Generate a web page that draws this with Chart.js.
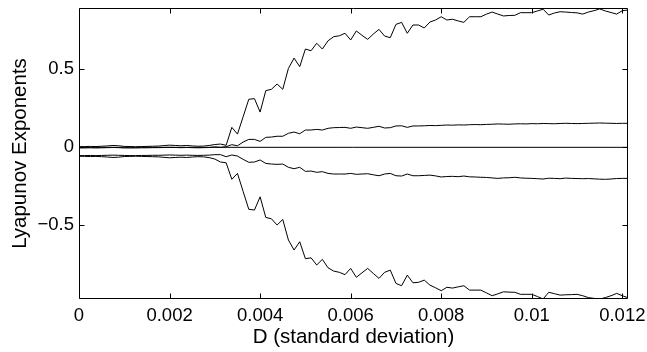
<!DOCTYPE html>
<html>
<head>
<meta charset="utf-8">
<script src="https://cdn.jsdelivr.net/npm/chart.js@4"></script>
<style>
    html, body { margin: 0; padding: 0; background: #fff; }
    canvas { display: block; }
</style>
</head>
<body>
<canvas id="chart" width="647" height="352"></canvas>
<script>
// sampling of D: one point every 0.000125, 98 points
const dStep = 0.000125;
const dMax = 0.012125;

// Lyapunov exponents (top to bottom)
const lambda1 = [0.004, 0.005, 0.006, 0.005, 0.007, 0.009, 0.012, 0.010, 0.006, 0.005, 0.004, 0.005, 0.006, 0.007, 0.008, 0.011, 0.014, 0.012, 0.010, 0.012, 0.009, 0.007, 0.008, 0.012, 0.018,
    0.021, 0.013, 0.128, 0.085, 0.196, 0.308, 0.312, 0.226, 0.363, 0.372, 0.406, 0.372, 0.506, 0.572, 0.517, 0.630, 0.619, 0.667, 0.630, 0.683, 0.709, 0.715, 0.731, 0.688, 0.746, 0.718, 0.692, 0.726, 0.756, 0.713, 0.703, 0.788, 0.801, 0.731, 0.784, 0.784,
    0.765, 0.803, 0.816, 0.837, 0.816, 0.821, 0.810, 0.801, 0.837, 0.837, 0.837, 0.854, 0.867, 0.854, 0.842, 0.845, 0.846, 0.863, 0.863, 0.863, 0.874, 0.885, 0.848, 0.861, 0.869, 0.867, 0.864, 0.862, 0.854, 0.867, 0.876, 0.887, 0.874, 0.864, 0.854, 0.876, 0.880];

const lambda2 = [-0.004, -0.004, -0.003, -0.004, -0.003, -0.002, -0.001, -0.002, -0.004, -0.004, -0.004, -0.003, -0.003, -0.002, -0.002, -0.001, 0.000, -0.001, -0.002, -0.001, -0.002, -0.003, -0.002, -0.001, 0.003,
    0.000, 0.004, 0.017, 0.010, 0.034, 0.051, 0.051, 0.038, 0.064, 0.066, 0.071, 0.071, 0.090, 0.098, 0.087, 0.111, 0.111, 0.115, 0.111, 0.122, 0.126, 0.127, 0.128, 0.122, 0.130, 0.126, 0.122, 0.128, 0.135, 0.124, 0.126, 0.137, 0.138, 0.128, 0.137, 0.137,
    0.138, 0.140, 0.139, 0.141, 0.143, 0.142, 0.144, 0.143, 0.145, 0.146, 0.145, 0.147, 0.148, 0.150, 0.149, 0.148, 0.150, 0.151, 0.150, 0.152, 0.151, 0.153, 0.152, 0.151, 0.153, 0.154, 0.153, 0.152, 0.153, 0.154, 0.155, 0.156, 0.155, 0.154, 0.153, 0.154, 0.154];

const lambda3 = [-0.053, -0.053, -0.052, -0.053, -0.052, -0.051, -0.050, -0.051, -0.052, -0.053, -0.053, -0.052, -0.052, -0.051, -0.051, -0.050, -0.049, -0.050, -0.051, -0.050, -0.051, -0.052, -0.051, -0.050, -0.047,
    -0.047, -0.060, -0.049, -0.056, -0.077, -0.096, -0.094, -0.081, -0.103, -0.107, -0.109, -0.107, -0.128, -0.137, -0.128, -0.154, -0.152, -0.160, -0.156, -0.167, -0.171, -0.171, -0.171, -0.167, -0.173, -0.171, -0.169, -0.176, -0.182, -0.171, -0.167, -0.182, -0.184, -0.171, -0.182, -0.182,
    -0.180, -0.178, -0.183, -0.190, -0.187, -0.186, -0.188, -0.184, -0.189, -0.190, -0.192, -0.193, -0.196, -0.199, -0.196, -0.195, -0.192, -0.196, -0.198, -0.199, -0.201, -0.203, -0.198, -0.199, -0.201, -0.197, -0.199, -0.200, -0.201, -0.200, -0.202, -0.204, -0.205, -0.203, -0.200, -0.199, -0.199];

const lambda4 = [-0.057, -0.058, -0.059, -0.058, -0.060, -0.062, -0.065, -0.063, -0.059, -0.058, -0.057, -0.058, -0.059, -0.060, -0.061, -0.064, -0.067, -0.065, -0.063, -0.065, -0.062, -0.060, -0.061, -0.066, -0.075,
    -0.094, -0.099, -0.205, -0.167, -0.283, -0.397, -0.402, -0.317, -0.449, -0.458, -0.498, -0.462, -0.594, -0.658, -0.605, -0.714, -0.708, -0.754, -0.718, -0.772, -0.793, -0.801, -0.816, -0.776, -0.833, -0.804, -0.776, -0.808, -0.840, -0.801, -0.787, -0.872, -0.887, -0.819, -0.868, -0.865,
    -0.851, -0.883, -0.900, -0.919, -0.897, -0.902, -0.894, -0.887, -0.915, -0.915, -0.915, -0.933, -0.951, -0.939, -0.926, -0.928, -0.929, -0.942, -0.942, -0.942, -0.956, -0.972, -0.929, -0.938, -0.947, -0.945, -0.944, -0.942, -0.951, -0.963, -0.968, -0.972, -0.963, -0.951, -0.936, -0.951, -0.964];

// ticks
const xTicks = [0, 0.002, 0.004, 0.006, 0.008, 0.01, 0.012];
const xTickLabels = ['0', '0.002', '0.004', '0.006', '0.008', '0.01', '0.012'];
const yTicks = [-0.5, 0, 0.5];
const yTickLabels = ['\u22120.5', '0', '0.5'];

const yMin = -0.972;
const yMax = 0.893;

const FAMILY = "'Liberation Sans', Arial, Helvetica, sans-serif";
const TICK_FONT = { family: FAMILY, size: 18.5 };
const TITLE_FONT = { family: FAMILY, size: 20.5 };

function toPoints(values) {
    return values.map((v, k) => ({ x: k * dStep, y: v }));
}

// matlab style box: full frame, ticks pointing inwards on all four sides
const boxPlugin = {
    id: 'boxPlugin',
    afterDatasetsDraw(chart) {
        const ctx = chart.ctx;
        const a = chart.chartArea;
        const xs = chart.scales.x;
        const ys = chart.scales.y;
        const L = Math.round(a.left) + 0.5, R = Math.round(a.right) - 0.5;
        const T = Math.round(a.top) + 0.5, B = Math.round(a.bottom) - 0.5;
        const len = 5;
        ctx.save();
        ctx.strokeStyle = '#000';
        ctx.lineWidth = 1;
        ctx.beginPath();
        ctx.rect(L, T, R - L, B - T);
        xTicks.forEach(function (v) {
            const px = Math.round(xs.getPixelForValue(v)) + 0.5;
            ctx.moveTo(px, B); ctx.lineTo(px, B - len);
            ctx.moveTo(px, T); ctx.lineTo(px, T + len);
        });
        yTicks.forEach(function (v) {
            const py = Math.round(ys.getPixelForValue(v)) + 0.5;
            ctx.moveTo(L, py); ctx.lineTo(L + len, py);
            ctx.moveTo(R, py); ctx.lineTo(R - len, py);
        });
        ctx.stroke();
        ctx.restore();
    }
};

function lineSet(values) {
    return {
        data: toPoints(values),
        borderColor: '#000',
        borderWidth: 1,
        pointRadius: 0,
        tension: 0,
        fill: false
    };
}

window.onload = function () {
    const ctx = document.getElementById('chart').getContext('2d');

    new Chart(ctx, {
        type: 'line',
        data: {
            datasets: [
                lineSet(lambda1),
                lineSet(lambda2),
                lineSet(lambda3),
                lineSet(lambda4),
                // zero line
                {
                    data: [{ x: 0, y: 0 }, { x: dMax, y: 0 }],
                    borderColor: '#000',
                    borderWidth: 1,
                    pointRadius: 0
                }
            ]
        },
        options: {
            responsive: false,
            animation: false,
            layout: { padding: { left: 0, right: 19, top: 8, bottom: 0 } },
            plugins: {
                legend: { display: false },
                tooltip: { enabled: false }
            },
            scales: {
                x: {
                    type: 'linear',
                    min: 0,
                    max: dMax,
                    grid: { display: false, drawTicks: false },
                    border: { display: false },
                    afterBuildTicks: function (scale) {
                        scale.ticks = xTicks.map(v => ({ value: v }));
                    },
                    afterFit: function (scale) {
                        scale.height = 53;
                        scale.paddingLeft = 0;
                        scale.paddingRight = 0;
                    },
                    ticks: {
                        autoSkip: false,
                        maxRotation: 0,
                        padding: 6,
                        color: '#000',
                        font: TICK_FONT,
                        callback: function (value, index) { return xTickLabels[index]; }
                    },
                    title: {
                        display: true,
                        text: 'D (standard deviation)',
                        color: '#000',
                        font: TITLE_FONT,
                        padding: { top: 0, bottom: 2 }
                    }
                },
                y: {
                    type: 'linear',
                    min: yMin,
                    max: yMax,
                    grid: { display: false, drawTicks: false },
                    border: { display: false },
                    afterBuildTicks: function (scale) {
                        scale.ticks = yTicks.map(v => ({ value: v }));
                    },
                    afterFit: function (scale) {
                        scale.width = 79;
                        scale.paddingTop = 0;
                        scale.paddingBottom = 0;
                    },
                    ticks: {
                        autoSkip: false,
                        padding: 5,
                        color: '#000',
                        font: TICK_FONT,
                        callback: function (value, index) { return yTickLabels[index]; }
                    },
                    title: {
                        display: true,
                        text: 'Lyapunov Exponents',
                        color: '#000',
                        font: TITLE_FONT,
                        padding: { top: 8, bottom: 0 }
                    }
                }
            }
        },
        plugins: [boxPlugin]
    });
};
</script>
</body>
</html>
